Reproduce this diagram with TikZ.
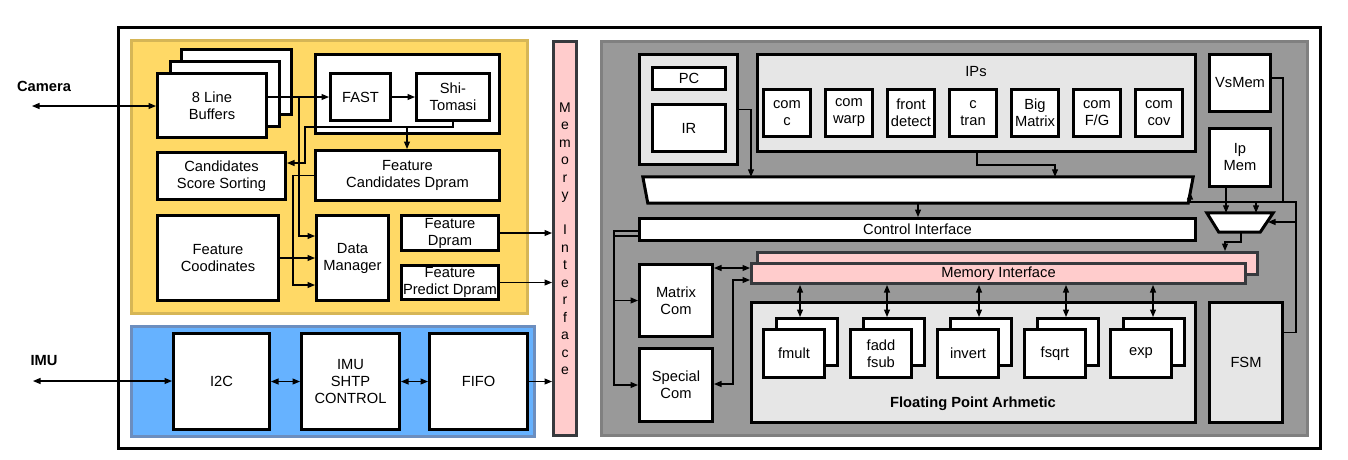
\documentclass[tikz,border=0pt]{standalone}
\usepackage{fontspec}
\setmainfont{Liberation Sans}
\usetikzlibrary{arrows.meta,calc}
\definecolor{ylw}{HTML}{FFD966}
\definecolor{ylwd}{HTML}{D6B656}
\definecolor{blu}{HTML}{66B2FF}
\definecolor{blud}{HTML}{6C8EBF}
\definecolor{gry}{HTML}{999999}
\definecolor{gryd}{HTML}{808080}
\definecolor{lg}{HTML}{E6E6E6}
\definecolor{pnk}{HTML}{FFCCCC}
\definecolor{pnkd}{HTML}{36393D}
\newcommand\myfs{\fontsize{14.7}{17}\selectfont}
\tikzset{
  blk/.style={draw=black, line width=3pt, fill=white, align=center, inner sep=0pt, font=\myfs},
  arr/.style={line width=1.1pt, -{Triangle[length=7.5pt,width=6pt]}},
  arrb/.style={line width=1.1pt, {Triangle[length=7.5pt,width=6pt]}-{Triangle[length=7.5pt,width=6pt]}},
  ln/.style={line width=1.1pt},
  busst/.style={draw=black, line width=3pt, fill=white, line join=miter},
}
\newcommand\bx[6][]{\node[blk,#1,minimum width={(#5)*1pt-(#3)*1pt-3pt},minimum height={(#6)*1pt-(#4)*1pt-3pt}] (#2) at ({(#3+#5)/2},{(#4+#6)/2})}
\begin{document}
\begin{tikzpicture}[x=1pt,y=-1pt]
\useasboundingbox (0,0) rectangle (1348,459);
\fill[white] (0,0) rectangle (1348,459);
% containers
\bx{frame}{117}{26}{1322}{450}{};
\bx[draw=ylwd,fill=ylw]{yel}{130}{39}{529}{315}{};
\bx[draw=blud,fill=blu]{blue}{130}{325}{536}{438}{};
\bx[draw=pnkd,fill=pnk,font=\fontsize{14}{17.5}\selectfont]{miv}{552}{40}{578}{437}{M\\e\\m\\o\\r\\y\\ \\I\\n\\t\\e\\r\\f\\a\\c\\e};
\bx[draw=gryd,fill=gry]{grey}{600}{40}{1309}{437}{};
% yellow block
\bx{lb3}{180}{48}{293}{116}{};
\bx{lb2}{169}{60}{281}{128}{};
\bx{lb}{156}{72}{268}{139}{8 Line\\Buffers};
\bx{fcont}{314}{53}{501}{135}{};
\bx{fast}{329}{72}{392}{122}{FAST};
\bx{shi}{415}{72}{491}{122}{Shi-\\Tomasi};
\bx{css}{156}{151}{287}{201}{Candidates\\Score Sorting};
\bx{fcd}{314}{149}{501}{202}{Feature\\Candidates Dpram};
\bx{fco}{156}{214}{280}{302}{Feature\\Coodinates};
\bx{dm}{315}{214}{390}{302}{Data\\Manager};
\bx{fdp}{400}{214}{500}{252}{Feature\\Dpram};
\bx{fpd}{400}{264}{500}{301}{Feature\\Predict Dpram};
% blue block
\bx{i2c}{172}{332}{271}{431}{I2C};
\bx{shtp}{300}{332}{401}{431}{IMU\\SHTP\\CONTROL};
\bx{fifo}{428}{332}{529}{431}{FIFO};
% right block
\bx[fill=lg]{pcir}{638}{53}{739}{166}{};
\bx{pc}{651}{66}{727}{91}{PC};
\bx{ir}{651}{103}{727}{153}{IR};
\bx[fill=lg]{ips}{756}{53}{1197}{153}{};
\node[font=\myfs] (ipslbl) at (976,72) {IPs};
\bx{ip1}{762}{88}{812}{138}{com\\c};
\bx{ip2}{824}{88}{874}{138}{com\\warp};
\bx{ip3}{886}{88}{936}{138}{front\\detect};
\bx{ip4}{948}{88}{998}{138}{c\\tran};
\bx{ip5}{1010}{88}{1060}{138}{Big\\Matrix};
\bx{ip6}{1072}{88}{1122}{138}{com\\F/G};
\bx{ip7}{1134}{88}{1184}{138}{com\\cov};
\bx{vsm}{1208}{53}{1272}{113}{VsMem};
\bx{ipm}{1208}{127}{1272}{188}{Ip\\Mem};
\node[minimum width=545pt,minimum height=26pt,inner sep=0pt] (bus) at (918,190) {};
\draw[busst] ([xshift=-2.5pt]bus.north west) -- ([xshift=2.5pt]bus.north east) -- ([xshift=-2.5pt]bus.south east) -- ([xshift=2.5pt]bus.south west) -- cycle;
\node[minimum width=54pt,minimum height=19pt,inner sep=0pt] (mux) at (1240,222.5) {};
\draw[busst] ([xshift=-6pt]mux.north west) -- ([xshift=6pt]mux.north east) -- ([xshift=-7pt]mux.south east) -- ([xshift=6pt]mux.south west) -- cycle;
\bx{ci}{638}{217}{1197}{242}{Control Interface};
\bx[draw=pnkd,fill=pnk]{mib}{756}{251}{1259}{276}{};
\bx[draw=pnkd,fill=pnk]{mi}{750}{262}{1247}{285}{Memory Interface};
\bx[fill=lg]{fpa}{750}{301}{1197}{424}{};
\node[font=\myfs\bfseries] (fpalbl) at (973,404) {Floating Point Arhmetic};
\bx[fill=lg]{fsm}{1208}{301}{1284}{424}{FSM};
\bx{mat}{638}{263}{714}{338}{Matrix\\Com};
\bx{spc}{638}{347}{714}{423}{Special\\Com};
\bx{fmb}{775}{317}{839}{367}{};
\bx{fm}{762}{328}{826}{379}{fmult};
\bx{fab}{862}{317}{926}{367}{};
\bx{fa}{849}{328}{913}{379}{fadd\\fsub};
\bx{inb}{949}{317}{1013}{367}{};
\bx{in}{936}{328}{1000}{379}{invert};
\bx{fsb}{1036}{317}{1100}{367}{};
\bx{fs}{1023}{328}{1087}{379}{fsqrt};
\bx{exb}{1122}{317}{1186}{367}{};
\bx{ex}{1109}{328}{1173}{379}{exp};
% left connectors
\coordinate (cam) at (32,106);
\node[font=\myfs\bfseries] (camlbl) at (44,86) {Camera};
\draw[arrb] (cam) -- (cam -| lb.west);
\draw[arr] (lb.east |- fast.west) -- (fast.west);
\draw[arr] (fast) -- (shi);
\draw[arr] (299,0 |- fast.west) |- ([yshift=22pt]dm.west);
\draw[arr] (shi.south) |- (305,127) |- ([yshift=13pt]css.east);
\draw[arr] (407,127) -- (407,0 |- fcd.north);
\draw[arr] (fcd.west) -| (293,285) -- (dm.west |- 0,285);
\draw[arr] (fco.east) -- (dm.west);
\draw[arr] (fdp.east) -- (fdp.east -| miv.west);
\draw[arr] (fpd.east) -- (fpd.east -| miv.west);
\coordinate (imuc) at (33,381);
\node[font=\myfs\bfseries] (imulbl) at (44,361) {IMU};
\draw[arrb] (imuc) -- (imuc -| i2c.west);
\draw[arrb] (i2c) -- (shtp);
\draw[arrb] (shtp) -- (fifo);
\draw[arr] (fifo) -- (fifo -| miv.west);
% right connectors
\draw[arr] (pcir.east) -| (751,0 |- bus.north);
\draw[arr] (977,0 |- ips.south) -- (977,165) -| (1055,0 |- bus.north);
\draw[arr] (918,0 |- bus.south) -- (918,0 |- ci.north);
\draw[arr] (1226,0 |- ipm.south) -- (1226,0 |- mux.north);
\draw[arr] ([yshift=5pt]vsm.east) -| (1283,202) -| (1256,0 |- mux.north);
\draw[arr] ([yshift=30pt]fsm.east) -| (1296,202) -- (1190,202) -- (1190,192);
\draw[arr] (1296,222) -- (1268,222);
\draw[arr] (1241,0 |- mux.south) -- (1241,242) -| (1225,0 |- mib.north);
\draw[arr] (ci.west |- 0,231) -- (614,231) |- (spc.west);
\draw[ln] (614,236) -- (ci.west |- 0,236);
\draw[arr] (614,0 |- mat.west) -- (mat.west);
\draw[arrb] (mat.east |- 0,268) -- (mi.west |- 0,268);
\draw[arrb] (mi.west |- 0,280) -| (733,384) -- (spc.east |- 0,384);
\draw[arrb] (800,0 |- mi.south) -- (800,0 |- fmb.north);
\draw[arrb] (887,0 |- mi.south) -- (887,0 |- fab.north);
\draw[arrb] (979,0 |- mi.south) -- (979,0 |- inb.north);
\draw[arrb] (1066,0 |- mi.south) -- (1066,0 |- fsb.north);
\draw[arrb] (1153,0 |- mi.south) -- (1153,0 |- exb.north);
\end{tikzpicture}
\end{document}
